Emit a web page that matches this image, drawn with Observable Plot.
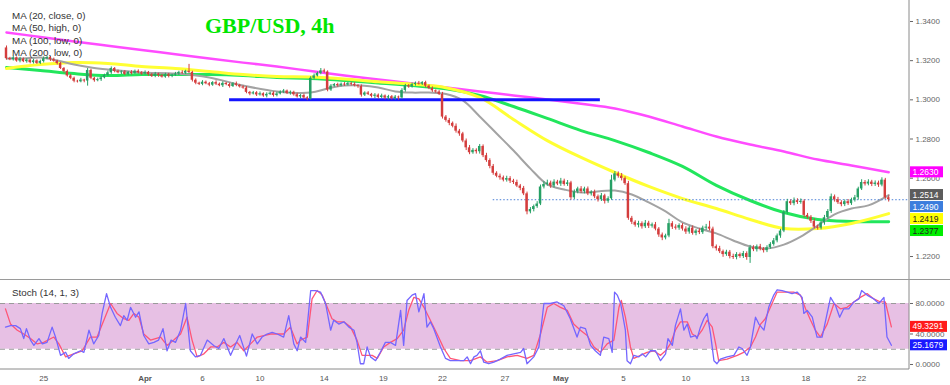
<!DOCTYPE html>
<html><head><meta charset="utf-8">
<script src="https://cdn.jsdelivr.net/npm/d3@7"></script>
<script src="https://cdn.jsdelivr.net/npm/@observablehq/plot@0.6"></script>
<style>
body{margin:0;background:#fff;font-family:"Liberation Sans",Arial,sans-serif;}
#wrap{position:relative;width:950px;height:385px;overflow:hidden;background:#fff;}
#main,#stoch,#over{position:absolute;left:0;}
#main{top:0}#stoch{top:280px}#over{top:0;pointer-events:none}
</style></head><body>
<div id="wrap"><div id="main"></div><div id="stoch"></div><svg id="over" width="950" height="385"></svg></div>
<script>
// ---------- DATA ----------
const firstOpen = 1.3265;
const closes = [
1.3211,1.3205,1.3214,1.3198,1.3208,1.3195,1.3203,1.3190,1.3199,1.3186,
1.3196,1.3210,1.3216,1.3205,1.3198,1.3185,1.3160,1.3145,1.3122,1.3110,
1.3095,1.3092,1.3101,1.3096,1.3150,1.3110,1.3098,1.3103,1.3112,1.3125,
1.3138,1.3160,1.3145,1.3138,1.3142,1.3130,1.3140,1.3135,1.3146,1.3138,
1.3132,1.3140,1.3128,1.3120,1.3131,1.3124,1.3116,1.3128,1.3120,1.3126,
1.3132,1.3140,1.3136,1.3146,1.3140,1.3100,1.3085,1.3079,1.3090,1.3082,
1.3075,1.3088,1.3080,1.3072,1.3084,1.3078,1.3068,1.3082,1.3074,1.3066,
1.3060,1.3038,1.3030,1.3036,1.3025,1.3031,1.3020,1.3028,1.3034,1.3022,
1.3030,1.3040,1.3045,1.3033,1.3038,1.3026,1.3015,1.3022,1.3010,1.3005,
1.3110,1.3122,1.3135,1.3148,1.3142,1.3050,1.3070,1.3078,1.3072,1.3080,
1.3076,1.3083,1.3079,1.3072,1.3068,1.3024,1.3035,1.3028,1.3018,1.3024,
1.3012,1.3020,1.3009,1.3016,1.3006,1.3014,1.3010,1.3048,1.3072,1.3066,
1.3078,1.3085,1.3080,1.3088,1.3070,1.3058,1.3046,1.3040,1.3028,1.2912,
1.2895,1.2880,1.2865,1.2840,1.2826,1.2790,1.2755,1.2730,1.2742,1.2735,
1.2762,1.2715,1.2690,1.2660,1.2625,1.2610,1.2602,1.2590,1.2598,1.2585,
1.2578,1.2560,1.2548,1.2520,1.2428,1.2440,1.2455,1.2468,1.2555,1.2568,
1.2575,1.2560,1.2580,1.2570,1.2585,1.2568,1.2576,1.2500,1.2530,1.2545,
1.2532,1.2545,1.2520,1.2528,1.2505,1.2490,1.2510,1.2482,1.2495,1.2590,
1.2622,1.2610,1.2598,1.2572,1.2395,1.2375,1.2360,1.2368,1.2352,1.2370,
1.2355,1.2362,1.2340,1.2310,1.2295,1.2305,1.2368,1.2350,1.2345,1.2358,
1.2340,1.2325,1.2345,1.2318,1.2330,1.2322,1.2345,1.2350,1.2340,1.2250,
1.2240,1.2225,1.2210,1.2222,1.2200,1.2195,1.2210,1.2200,1.2215,1.2195,
1.2245,1.2235,1.2250,1.2238,1.2230,1.2245,1.2262,1.2280,1.2305,1.2330,
1.2425,1.2480,1.2470,1.2485,1.2476,1.2482,1.2410,1.2400,1.2380,1.2350,
1.2345,1.2372,1.2398,1.2430,1.2505,1.2490,1.2475,1.2465,1.2480,1.2470,
1.2488,1.2500,1.2545,1.2578,1.2570,1.2580,1.2568,1.2575,1.2565,1.2590,
1.2500,1.2490];
// upper / lower wick lengths in pips
const wickUp = [
10,6,8,5,9,6,7,4,8,5, 7,9,6,5,8,4,6,5,7,8, 6,5,9,4,10,6,5,8,7,6, 9,8,5,7,6,8,5,9,6,7,
6,8,5,7,9,5,6,8,7,5, 8,6,9,5,35,6,7,5,8,6, 7,5,9,6,8,5,7,6,9,5, 6,8,5,7,6,9,5,8,6,7,
9,6,8,5,7,6,8,5,7,6, 8,10,7,12,9,6,8,5,7,6, 8,6,7,9,5,8,6,7,5,8, 6,9,5,7,6,8,5,9,7,6,
8,6,9,5,7,6,8,5,7,10, 8,10,7,12,9,8,10,12,9,8, 10,8,12,9,10,8,11,9,12,10, 9,12,8,10,9,10,8,12,10,14,
15,10,12,9,14,10,12,8,10,9, 12,9,10,8,11,9,12,8,10,25, 12,10,14,9,12,10,8,12,9,14, 10,9,12,8,10,9,22,10,12,9,
10,12,9,11,8,12,10,14,30,10, 9,12,8,10,9,12,10,8,11,9, 12,10,9,12,8,10,9,12,10,9, 10,12,9,14,10,12,8,10,9,12,
10,9,12,10,14,9,12,10,9,11, 10,12,9,14,10,12,9,11,10,12, 9,10];
const wickDn = [
8,5,7,6,9,5,8,6,7,5, 6,8,5,9,6,7,5,8,6,7, 8,6,5,9,26,7,8,6,9,5, 6,8,7,5,9,6,7,8,5,6,
7,5,8,6,7,9,5,6,8,7, 6,8,5,7,6,9,8,6,7,5, 8,6,7,5,9,6,8,5,7,6, 6,7,9,5,8,6,7,10,6,8,
7,5,8,6,9,7,6,10,8,9, 6,8,5,7,6,9,7,5,8,6, 7,5,8,6,9,10,7,6,8,12, 8,6,9,10,7,8,12,6,9,7,
6,8,5,7,9,6,8,7,6,10, 9,12,8,10,12,9,14,10,8,12, 12,10,9,12,10,8,12,9,10,12, 10,8,12,9,15,10,12,9,8,10,
9,12,10,8,12,9,10,12,9,10, 10,12,9,11,10,12,9,14,10,8, 9,10,12,9,10,12,10,14,12,9, 12,10,9,12,14,10,9,12,10,11,
10,12,11,9,12,10,9,12,10,10, 12,10,14,9,12,10,12,9,10,14, 30,10,12,9,12,10,8,9,10,12, 8,10,9,11,10,9,12,10,11,9,
10,9,12,8,10,12,9,11,10,9, 9,10,12,8,10,9,11,10,12,9, 8,12];

// moving averages (sampled at candle indices)
const maIdx = [0,10,20,30,40,50,60,70,80,90,100,110,120,130,140,150,160,170,180,190,200,210,220,230,240,250,261];
const ma50  = [1.3160,1.3180,1.3191,1.3186,1.3170,1.3160,1.3145,1.3129,1.3119,1.3117,1.3107,1.3092,1.3080,1.3062,1.3012,1.2900,1.2792,1.2706,1.2629,1.2558,1.2496,1.2445,1.2389,1.2343,1.2343,1.2369,1.2419];
const ma100 = [1.3165,1.3150,1.3134,1.3124,1.3129,1.3129,1.3129,1.3124,1.3114,1.3109,1.3099,1.3086,1.3073,1.3056,1.3022,1.2966,1.2905,1.2843,1.2792,1.2731,1.2660,1.2563,1.2486,1.2425,1.2389,1.2379,1.2377];
const ma200 = [1.3344,1.3321,1.3298,1.3276,1.3254,1.3233,1.3211,1.3190,1.3170,1.3147,1.3124,1.3104,1.3083,1.3063,1.3043,1.3022,1.3002,1.2980,1.2956,1.2915,1.2864,1.2813,1.2772,1.2736,1.2695,1.2665,1.2630];
const ma20Idx = [0,5,10,15,20,25,30,40,50,60,70,80,90,95,100,105,110,115,120,125,130,135,140,145,150,155,160,165,170,180,185,190,195,200,205,210,215,220,225,230,235,240,245,250,255,261];
const ma20 = [1.3211,1.3211,1.3216,1.3201,1.3180,1.3165,1.3155,1.3140,1.3134,1.3114,1.3073,1.3043,1.3037,1.3058,1.3073,1.3073,1.3063,1.3043,1.3037,1.3037,1.3030,1.2997,1.2915,1.2828,1.2741,1.2649,1.2568,1.2542,1.2527,1.2537,1.2517,1.2476,1.2430,1.2374,1.2343,1.2318,1.2282,1.2251,1.2241,1.2261,1.2302,1.2358,1.2415,1.2445,1.2461,1.2514];

// horizontal support line and last price
const support = [{from: 66, to: 175.7, price: 1.3000}];
const lastPrice = 1.2490, lastPriceFrom = 144;
const priceTicks = [1.22,1.24,1.26,1.28,1.30,1.32,1.34];
const priceLabels = [
  {v:1.2630, bg:"#ff00ff", fg:"#fff"},
  {v:1.2514, bg:"#5c5c5c", fg:"#fff"},
  {v:1.2490, bg:"#3b7ddd", fg:"#fff"},
  {v:1.2419, bg:"#ffff00", fg:"#222"},
  {v:1.2377, bg:"#00ee00", fg:"#222"}];
const legend = [
  "MA (20, close, 0)", "MA (50, high, 0)", "MA (100, low, 0)", "MA (200, low, 0)"];

// stochastic %K (blue) and %D (red)
const kIdx = [-0.3,1.2,2.7,4.1,5.1,5.9,7.1,8.1,9.6,10.6,12.0,13.5,14.5,16.0,17.5,18.4,19.9,21.9,22.9,24.4,25.8,27.3,28.3,29.6,30.8,32.2,33.7,34.7,35.7,36.7,38.2,39.2,40.6,42.1,43.6,45.0,46.3,47.5,48.7,50.0,51.5,53.0,54.4,55.9,57.4,59.4,61.3,62.8,64.3,66.3,67.8,69.0,71.0,72.7,74.2,75.6,77.1,78.6,80.1,82.0,83.5,85.0,86.0,
87.0,88.5,90.0,91.4,92.9,94.4,95.9,96.8,98.3,99.8,101.3,102.8,103.7,104.7,105.7,106.7,107.7,109.2,110.6,112.1,113.6,115.1,116.6,117.5,118.5,120.0,121.0,122.0,123.5,124.4,125.4,126.4,128.4,129.9,131.3,133.3,135.3,136.3,137.3,138.3,139.2,140.2,141.2,142.7,144.2,146.1,148.1,150.1,152.1,153.0,154.0,156.0,157.5,159.0,160.9,162.9,164.9,166.8,168.8,169.8,171.3,172.8,174.2,175.7,
176.7,178.2,179.2,179.9,180.7,181.7,183.1,183.6,184.6,185.6,187.1,188.1,189.1,190.5,192.0,193.5,195.0,195.7,197.0,197.9,199.4,200.4,201.4,202.4,203.8,204.3,205.3,206.3,207.3,208.3,209.3,210.2,211.2,213.2,215.2,216.7,217.6,219.1,220.1,221.6,222.6,224.1,225.5,227.0,228.0,229.5,231.0,232.4,233.9,235.4,235.9,236.9,238.4,239.8,241.3,243.8,245.3,246.5,247.7,249.2,250.7,252.2,253.0,254.6,256.6,258.1,259.6,260.5,261.8];
const kVal = [49,51,51,47,34,47,32,25,34,27,29,49,36,12,16,8,14,18,16,45,27,38,67,93,75,62,51,64,58,75,62,69,38,27,29,32,47,18,32,29,45,80,18,10,12,32,25,21,34,12,27,38,11,40,27,36,40,42,40,36,64,27,18,
36,29,97,97,95,80,45,58,53,56,49,45,29,1,1,23,10,5,16,29,29,25,71,25,84,91,93,69,93,49,56,47,23,8,5,5,5,10,1,10,12,18,3,1,3,7,12,14,16,21,1,10,23,80,80,82,77,60,36,49,47,25,18,12,
36,34,16,95,91,80,45,5,1,12,10,14,10,18,18,5,14,34,25,51,73,45,53,36,38,34,49,60,67,40,5,1,7,10,12,23,21,12,23,62,53,45,75,91,98,97,95,93,95,88,67,71,62,36,36,88,77,62,73,73,82,86,97,91,86,80,88,36,25.17];
const dIdx = [-0.3,1.2,3.2,5.1,7.1,9.1,11.0,14.0,15.5,17.5,19.9,22.4,24.8,26.8,28.8,30.8,32.7,34.7,36.2,37.7,39.2,40.6,42.6,45.6,47.5,49.5,51.5,53.4,54.9,56.4,58.4,60.4,62.3,64.3,66.3,68.2,70.2,72.2,74.2,76.1,78.1,80.1,82.0,84.0,86.0,
87.0,89.0,90.4,91.9,93.4,94.9,96.3,97.8,99.8,101.8,103.7,105.2,106.7,108.2,109.7,111.6,113.6,115.6,117.5,119.0,120.5,122.0,123.5,125.4,127.4,129.4,131.3,134.3,137.3,140.2,142.2,145.2,148.1,151.1,154.0,156.0,158.0,160.0,161.9,163.9,165.9,167.8,169.8,171.8,173.8,175.7,
177.7,179.7,181.2,181.9,183.1,184.6,185.6,187.6,189.5,191.5,193.5,195.0,196.4,197.9,199.4,201.4,202.9,204.3,205.8,207.3,208.8,209.8,210.7,213.2,216.2,218.1,220.1,221.6,223.1,224.5,226.5,228.0,230.0,232.9,234.9,236.4,237.9,239.3,240.8,242.8,244.8,246.7,248.7,250.7,252.6,254.6,256.6,258.6,260.0,261.8];
const dVal = [73,53,45,40,34,27,29,36,27,10,14,18,36,36,58,80,67,60,58,67,62,40,32,36,25,32,40,62,32,10,14,23,23,29,23,29,18,27,36,38,40,40,40,49,27,
32,36,86,97,91,75,60,56,56,49,32,12,12,12,8,23,29,34,45,71,88,86,75,58,40,21,8,5,5,10,3,5,10,12,8,12,40,75,80,75,71,53,45,38,23,16,
27,32,75,84,62,23,8,12,16,18,12,18,27,45,56,56,40,36,45,58,49,27,5,7,12,16,23,36,53,60,80,95,95,95,91,73,58,45,36,53,80,73,75,82,88,93,86,82,82,49.33];
const stochBand = [20, 80];
const stochTicks = [0, 40, 80];
const stochLabels = [{v:49.3291, bg:"#ff1a1a", fg:"#fff"}, {v:25.1679, bg:"#1a1aff", fg:"#fff"}];
const dateTickIdx = [11,41,58,75,94,111.5,129,147.5,164,182.5,201,218.5,236.5,253];
const dateTickLabels = ["25","Apr","6","10","14","19","22","27","May","5","10","13","18","22"];

// ---------- BUILD ----------
const UP = "#26a065", DN = "#d43d3d";
const candles = closes.map((c, i) => {
  const o = i === 0 ? firstOpen : closes[i - 1];
  return {i, o, c, h: Math.max(o, c) + wickUp[i] / 1e4, l: Math.min(o, c) - wickDn[i] / 1e4, col: c >= o ? UP : DN};
});
const series = (idx, vals) => idx.map((i, k) => ({i, v: vals[k]}));
const XD = [-1.775, 267.16];
const YD = [1.20776, 1.35072];
const SD = [-6.56, 110.16];
const fmt4 = d3.format(".4f");

const main = Plot.plot({
  width: 950, height: 280, marginLeft: 0, marginRight: 41, marginTop: 0, marginBottom: 0,
  style: {color: "#666", fontFamily: "Liberation Sans, Arial, sans-serif", background: "transparent"},
  x: {domain: XD, axis: null},
  y: {domain: YD, axis: null},
  marks: [
    Plot.ruleX([XD[1]], {stroke: "#8a8a8a", dx: -0.5}),
    Plot.axisY(priceTicks, {anchor: "right", label: null, tickFormat: fmt4, tickSize: 3, tickPadding: 3, fontSize: 8}),
    Plot.line(series(maIdx, ma200), {x: "i", y: "v", stroke: "#ff4cff", strokeWidth: 2.5, curve: "catmull-rom"}),
    Plot.line(series(maIdx, ma100), {x: "i", y: "v", stroke: "#22e65c", strokeWidth: 3, curve: "catmull-rom"}),
    Plot.line(series(maIdx, ma50), {x: "i", y: "v", stroke: "#ffff33", strokeWidth: 3, curve: "catmull-rom"}),
    Plot.line(series(ma20Idx, ma20), {x: "i", y: "v", stroke: "#a3a3a3", strokeWidth: 2, curve: "catmull-rom"}),
    Plot.ruleY(support, {y: "price", x1: "from", x2: "to", stroke: "#1414ff", strokeWidth: 3}),
    Plot.ruleY([lastPrice], {x1: lastPriceFrom, x2: XD[1], stroke: "#4a7fd6", strokeWidth: 1, strokeDasharray: "1.5,2"}),
    Plot.ruleX(candles, {x: "i", y1: "l", y2: "h", stroke: "col", strokeWidth: 1}),
    Plot.rect(candles, {x1: d => d.i - 0.36, x2: d => d.i + 0.36, y1: "o", y2: "c", fill: "col"})
  ]
});
document.getElementById("main").appendChild(main);

const stoch = Plot.plot({
  width: 950, height: 105, marginLeft: 0, marginRight: 41, marginTop: 0, marginBottom: 16,
  style: {color: "#666", fontFamily: "Liberation Sans, Arial, sans-serif", background: "transparent"},
  x: {domain: XD, axis: null},
  y: {domain: SD, axis: null},
  marks: [
    Plot.rect([stochBand], {x1: XD[0], x2: XD[1], y1: d => d[0], y2: d => d[1], fill: "#e7c0e4"}),
    Plot.ruleY(stochBand, {stroke: "#9a9a9a", strokeWidth: 1.2, strokeDasharray: "5,4"}),
    Plot.line(series(dIdx, dVal), {x: "i", y: "v", stroke: "#ff5577", strokeWidth: 1.3}),
    Plot.line(series(kIdx, kVal), {x: "i", y: "v", stroke: "#7466ff", strokeWidth: 1.3}),
    Plot.ruleX([XD[1]], {stroke: "#8a8a8a", dx: -0.5}),
    Plot.ruleY([SD[0]], {stroke: "#8a8a8a", dy: -0.5}),
    Plot.axisY(stochTicks, {anchor: "right", label: null, tickFormat: fmt4, tickSize: 3, tickPadding: 3, fontSize: 8}),
    Plot.text(dateTickIdx.map((x, k) => ({x, t: dateTickLabels[k]})).filter(d => !isNaN(+d.t)),
      {x: "x", text: "t", frameAnchor: "bottom", lineAnchor: "middle", dy: 9, fontSize: 8, fill: "#555"}),
    Plot.text(dateTickIdx.map((x, k) => ({x, t: dateTickLabels[k]})).filter(d => isNaN(+d.t)),
      {x: "x", text: "t", frameAnchor: "bottom", lineAnchor: "middle", dy: 9, fontSize: 8, fontWeight: "bold", fill: "#555"})
  ]
});
document.getElementById("stoch").appendChild(stoch);

// ---------- OVERLAY (title, legend, value boxes) ----------
const over = d3.select("#over");
over.append("line").attr("x1", 0).attr("x2", 950).attr("y1", 279.5).attr("y2", 279.5).attr("stroke", "#9a9a9a");
over.append("text").attr("x", 205).attr("y", 33).text("GBP/USD, 4h")
  .attr("font-family", "Liberation Serif, Times New Roman, serif").attr("font-weight", "bold")
  .attr("font-size", 22).attr("fill", "#00e600");
legend.forEach((t, k) => over.append("text").attr("x", 12).attr("y", 18.5 + k * 12.6).text(t)
  .attr("font-size", 9.8).attr("fill", "#333"));
over.append("text").attr("x", 12).attr("y", 295.5).text("Stoch (14, 1, 3)").attr("font-size", 9.8).attr("fill", "#333");

function boxes(list, scale, offset, w) {
  let prev = -1e9;
  [...list].sort((a, b) => b.v - a.v).forEach(d => {
    let cy = scale.apply(d.v) + offset;
    cy = Math.max(cy, prev + 12);
    prev = cy;
    over.append("rect").attr("x", 910).attr("y", cy - 5.5).attr("width", w).attr("height", 11).attr("fill", d.bg);
    over.append("text").attr("x", 912.5).attr("y", cy + 3).text(fmt4(d.v)).attr("font-size", 8.5).attr("fill", d.fg);
  });
}
boxes(priceLabels, main.scale("y"), 0, 33);
boxes(stochLabels, stoch.scale("y"), 280, 37);
</script></body></html>
